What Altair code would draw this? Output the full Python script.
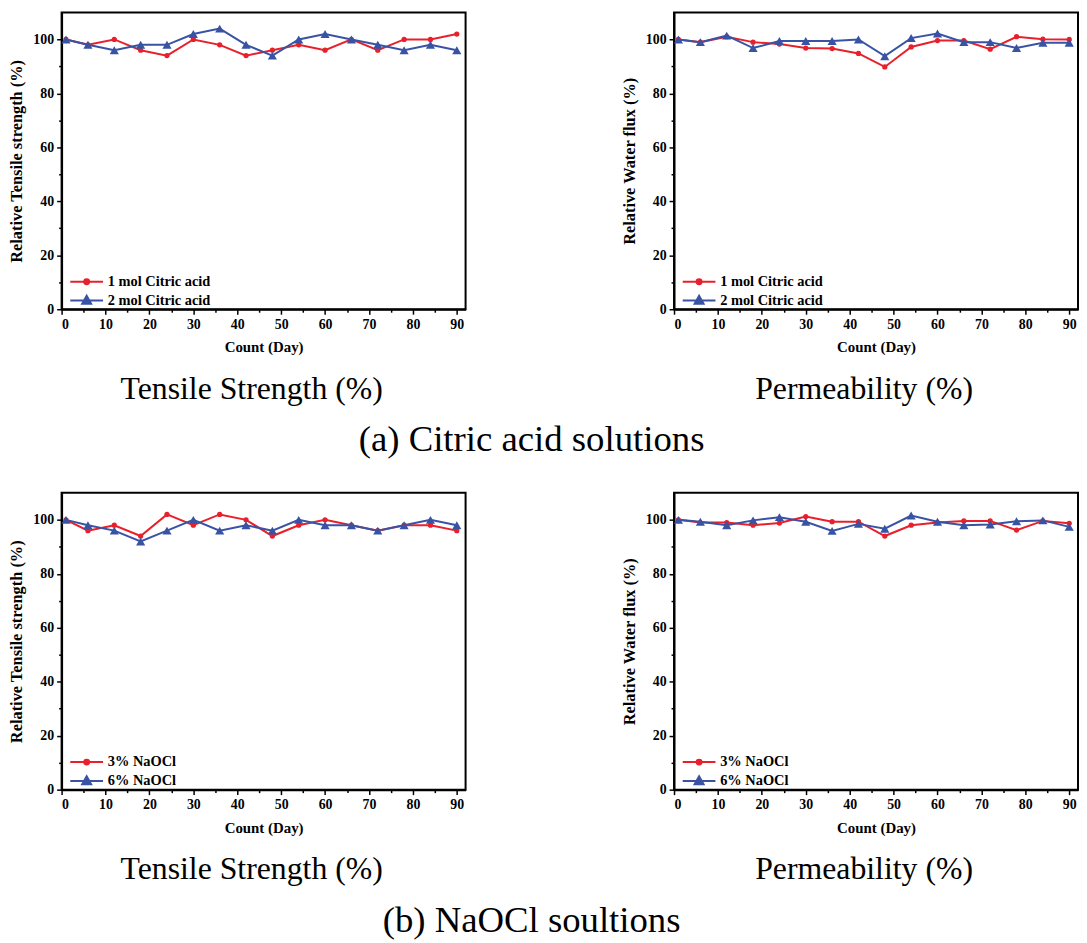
import altair as alt
import pandas as pd

days = [1, 6, 12, 18, 24, 30, 36, 42, 48, 54, 60, 66, 72, 78, 84, 90]

a_names = ["1 mol Citric acid", "2 mol Citric acid"]
b_names = ["3% NaOCl", "6% NaOCl"]

a_tensile_1 = [100, 98, 100, 96, 94, 100, 98, 94, 96, 98, 96, 100, 96, 100, 100, 102]
a_tensile_2 = [100, 98, 96, 98, 98, 102, 104, 98, 94, 100, 102, 100, 98, 96, 98, 96]
a_perm_1 = [100, 99, 101, 99, 98.3, 96.8, 96.6, 94.8, 89.8, 97.2, 99.6, 99.6, 96.4, 101, 100.1, 100]
a_perm_2 = [100, 99, 101.4, 96.8, 99.4, 99.4, 99.4, 100, 93.8, 100.5, 102.2, 99, 99, 96.8, 98.8, 98.8]
b_tensile_1 = [100, 96, 98, 94, 102, 98, 102, 100, 94, 98, 100, 98, 96, 98, 98, 96]
b_tensile_2 = [100, 98, 96, 92, 96, 100, 96, 98, 96, 100, 98, 98, 96, 98, 100, 98]
b_perm_1 = [100, 99, 99, 98, 98.8, 101.2, 99.3, 99.3, 94, 98, 99, 99.6, 99.6, 96.2, 99.6, 98.7]
b_perm_2 = [100, 99.3, 98, 99.8, 101, 99.3, 95.9, 98.5, 96.7, 101.6, 99.3, 98, 98.3, 99.5, 99.8, 97.4]

captions = ["Tensile Strength (%)", "Permeability (%)"]
y_titles = ["Relative Tensile strength (%)", "Relative Water flux (%)"]
row_titles = ["(a) Citric acid solutions", "(b) NaOCl soultions"]

RED = "#e8202b"
BLUE = "#3953a4"
SERIF = "Liberation Serif"

# legend symbols: a line segment with the series marker in its middle
CIRCLE_PATH = "M-3.3,0L3.3,0M0.5,0A0.5,0.5,0,1,1,-0.5,0A0.5,0.5,0,1,1,0.5,0Z"
TRI_PATH = "M-3.3,0L3.3,0M0,-0.95L0.9,0.65L-0.9,0.65Z"


def legend_params():
    return alt.Legend(
        title=None, orient="none", legendX=18, legendY=264,
        symbolSize=100, symbolStrokeWidth=2, symbolOpacity=1,
        labelOffset=14, rowPadding=3, padding=0,
        labelFont=SERIF, labelFontWeight="bold", labelFontSize=14.5,
        labelColor="black",
    )


def panel(names, v1, v2, ytitle, caption, width):
    df = pd.DataFrame({
        "day": days + days,
        "value": v1 + v2,
        "series": [names[0]] * len(days) + [names[1]] * len(days),
    })
    x = alt.X(
        "day:Q",
        scale=alt.Scale(domain=[0, 92], nice=False),
        axis=alt.Axis(
            title="Count (Day)",
            values=list(range(0, 95, 5)),
            labelExpr="datum.value % 10 === 0 ? datum.label : ''",
            tickSize={"condition": {"test": "datum.value % 10 === 0", "value": 5}, "value": 3},
            labelPadding=3,
            titlePadding=9,
        ),
    )
    y = alt.Y(
        "value:Q",
        scale=alt.Scale(domain=[0, 110], nice=False),
        axis=alt.Axis(
            title=ytitle,
            titleFontSize=16.5,
            values=list(range(0, 101, 10)),
            labelExpr="datum.value % 20 === 0 ? datum.label : ''",
            tickSize={"condition": {"test": "datum.value % 20 === 0", "value": 5}, "value": 3},
            labelPadding=3,
            titlePadding=8,
        ),
    )
    base = alt.Chart(df)
    s1 = base.transform_filter(alt.datum.series == names[0])
    s2 = base.transform_filter(alt.datum.series == names[1])
    line1 = s1.mark_line(strokeWidth=2, color=RED).encode(x=x, y=y)
    line2 = s2.mark_line(strokeWidth=2, color=BLUE).encode(x=x, y=y)
    circles = s1.mark_point(filled=True, opacity=1, shape="circle", size=28, color=RED).encode(x=x, y=y)
    tris = s2.mark_point(filled=True, opacity=1, shape="triangle-up", size=85, color=BLUE).encode(x=x, y=y)
    legend_layer = base.transform_filter("false").mark_point(
        filled=True, size=100, strokeWidth=2, opacity=1
    ).encode(
        x=x, y=y,
        fill=alt.Fill("series:N", scale=alt.Scale(domain=names, range=[RED, BLUE]), legend=legend_params()),
        stroke=alt.Stroke("series:N", scale=alt.Scale(domain=names, range=[RED, BLUE]), legend=legend_params()),
        shape=alt.Shape("series:N", scale=alt.Scale(domain=names, range=[CIRCLE_PATH, TRI_PATH]), legend=legend_params()),
    )
    return alt.layer(line1, line2, circles, tris, legend_layer).properties(
        width=width, height=299,
        title=alt.TitleParams(
            caption, orient="bottom", font=SERIF, fontSize=32,
            fontWeight="normal", color="black", offset=19, dx=-12,
        ),
    )


RES = dict(shape="independent", fill="independent", stroke="independent")


def row(names, ts1, ts2, pm1, pm2, title):
    p1 = panel(names, ts1, ts2, y_titles[0], captions[0], 407)
    p2 = panel(names, pm1, pm2, y_titles[1], captions[1], 407)
    return alt.hconcat(
        p1, p2, spacing=155,
        title=alt.TitleParams(
            title, orient="bottom", anchor="middle", font=SERIF, fontSize=37,
            fontWeight="normal", color="black", offset=17, dx=-12,
        ),
    ).resolve_scale(**RES).resolve_legend(**RES)


row_a = row(a_names, a_tensile_1, a_tensile_2, a_perm_1, a_perm_2, row_titles[0])
row_b = row(b_names, b_tensile_1, b_tensile_2, b_perm_1, b_perm_2, row_titles[1])

chart = alt.vconcat(row_a, row_b, spacing=34).resolve_scale(**RES).resolve_legend(**RES).properties(
    padding={"left": 0, "top": 0, "right": 0, "bottom": 0},
    background="white",
).configure_view(
    stroke="black", strokeWidth=2,
).configure_axis(
    grid=False,
    domainColor="black", domainWidth=2,
    tickColor="black", tickWidth=1.5,
    labelFont=SERIF, labelFontWeight="bold", labelFontSize=14, labelColor="black",
    titleFont=SERIF, titleFontWeight="bold", titleFontSize=15, titleColor="black",
)

chart.save("out.html", embed_options={"renderer": "svg", "actions": False})
